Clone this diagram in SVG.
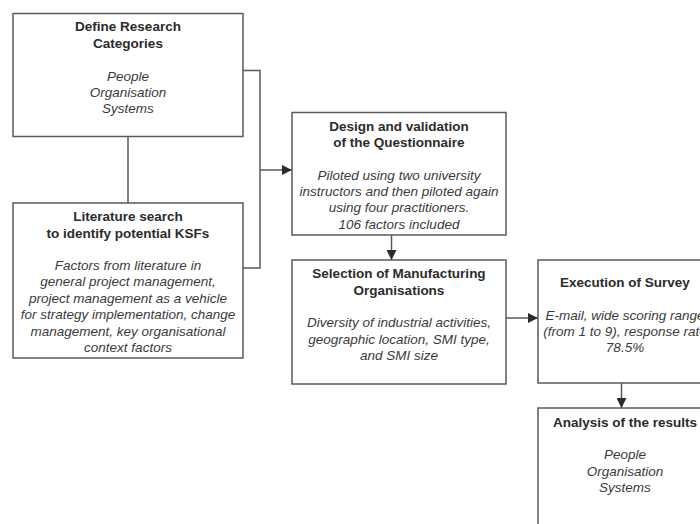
<svg xmlns="http://www.w3.org/2000/svg" width="700" height="524" viewBox="0 0 700 524">
<defs>
<style>
.box{fill:#fff;stroke:#5a5a5a;stroke-width:1.5}
.ln{fill:none;stroke:#5a5a5a;stroke-width:1.5}
.t{font-family:"Liberation Sans",Arial,sans-serif;font-size:13.5px;fill:#2b2b2b;text-anchor:middle}
.b{font-weight:bold}
.i{font-style:italic;fill:#3a3a3a}
</style>
<marker id="ah" markerWidth="10" markerHeight="10" refX="10" refY="5" orient="auto" markerUnits="userSpaceOnUse">
<path d="M0,0 L10,5 L0,10 Z" fill="#2b2b2b"/>
</marker>
</defs>
<rect width="700" height="524" fill="#fff"/>
<g id="connectors">
<path class="ln" d="M128,136.5 V203"/>
<path class="ln" d="M243,70.5 H260 V268 H243"/>
<path class="ln" d="M260,170 H292" marker-end="url(#ah)"/>
<path class="ln" d="M391.5,235 V260" marker-end="url(#ah)"/>
<path class="ln" d="M506,318 H538" marker-end="url(#ah)"/>
<path class="ln" d="M621.5,383 V408" marker-end="url(#ah)"/>
</g>
<g id="define">
<rect class="box" x="13" y="13.5" width="230" height="123"/>
<text class="t b" x="128" y="31">Define Research</text>
<text class="t b" x="128" y="48">Categories</text>
<text class="t i" x="128" y="80.5">People</text>
<text class="t i" x="128" y="96.5">Organisation</text>
<text class="t i" x="128" y="113">Systems</text>
</g>
<g id="literature">
<rect class="box" x="13" y="203" width="230" height="155"/>
<text class="t b" x="128" y="221">Literature search</text>
<text class="t b" x="128" y="237.5">to identify potential KSFs</text>
<text class="t i" x="128" y="270">Factors from literature in</text>
<text class="t i" x="128" y="286">general project management,</text>
<text class="t i" x="128" y="302.5">project management as a vehicle</text>
<text class="t i" x="128" y="319">for strategy implementation, change</text>
<text class="t i" x="128" y="335.5">management, key organisational</text>
<text class="t i" x="128" y="351.5">context factors</text>
</g>
<g id="design">
<rect class="box" x="292" y="112.5" width="214" height="122.5"/>
<text class="t b" x="399" y="130.5">Design and validation</text>
<text class="t b" x="399" y="147">of the Questionnaire</text>
<text class="t i" x="399" y="179.5">Piloted using two university</text>
<text class="t i" x="399" y="196">instructors and then piloted again</text>
<text class="t i" x="399" y="212">using four practitioners.</text>
<text class="t i" x="399" y="228.5">106 factors included</text>
</g>
<g id="selection">
<rect class="box" x="292" y="260" width="214" height="124"/>
<text class="t b" x="399" y="278">Selection of Manufacturing</text>
<text class="t b" x="399" y="295">Organisations</text>
<text class="t i" x="399" y="327">Diversity of industrial activities,</text>
<text class="t i" x="399" y="343.5">geographic location, SMI type,</text>
<text class="t i" x="399" y="360">and SMI size</text>
</g>
<g id="execution">
<rect class="box" x="538" y="260" width="174" height="123"/>
<text class="t b" x="625" y="286.5">Execution of Survey</text>
<text class="t i" x="625" y="319.5">E-mail, wide scoring range</text>
<text class="t i" x="625" y="336">(from 1 to 9), response rate</text>
<text class="t i" x="625" y="352">78.5%</text>
</g>
<g id="analysis">
<rect class="box" x="538" y="408" width="174" height="130"/>
<text class="t b" x="625" y="426.5">Analysis of the results</text>
<text class="t i" x="625" y="459">People</text>
<text class="t i" x="625" y="475.5">Organisation</text>
<text class="t i" x="625" y="492">Systems</text>
</g>
</svg>
